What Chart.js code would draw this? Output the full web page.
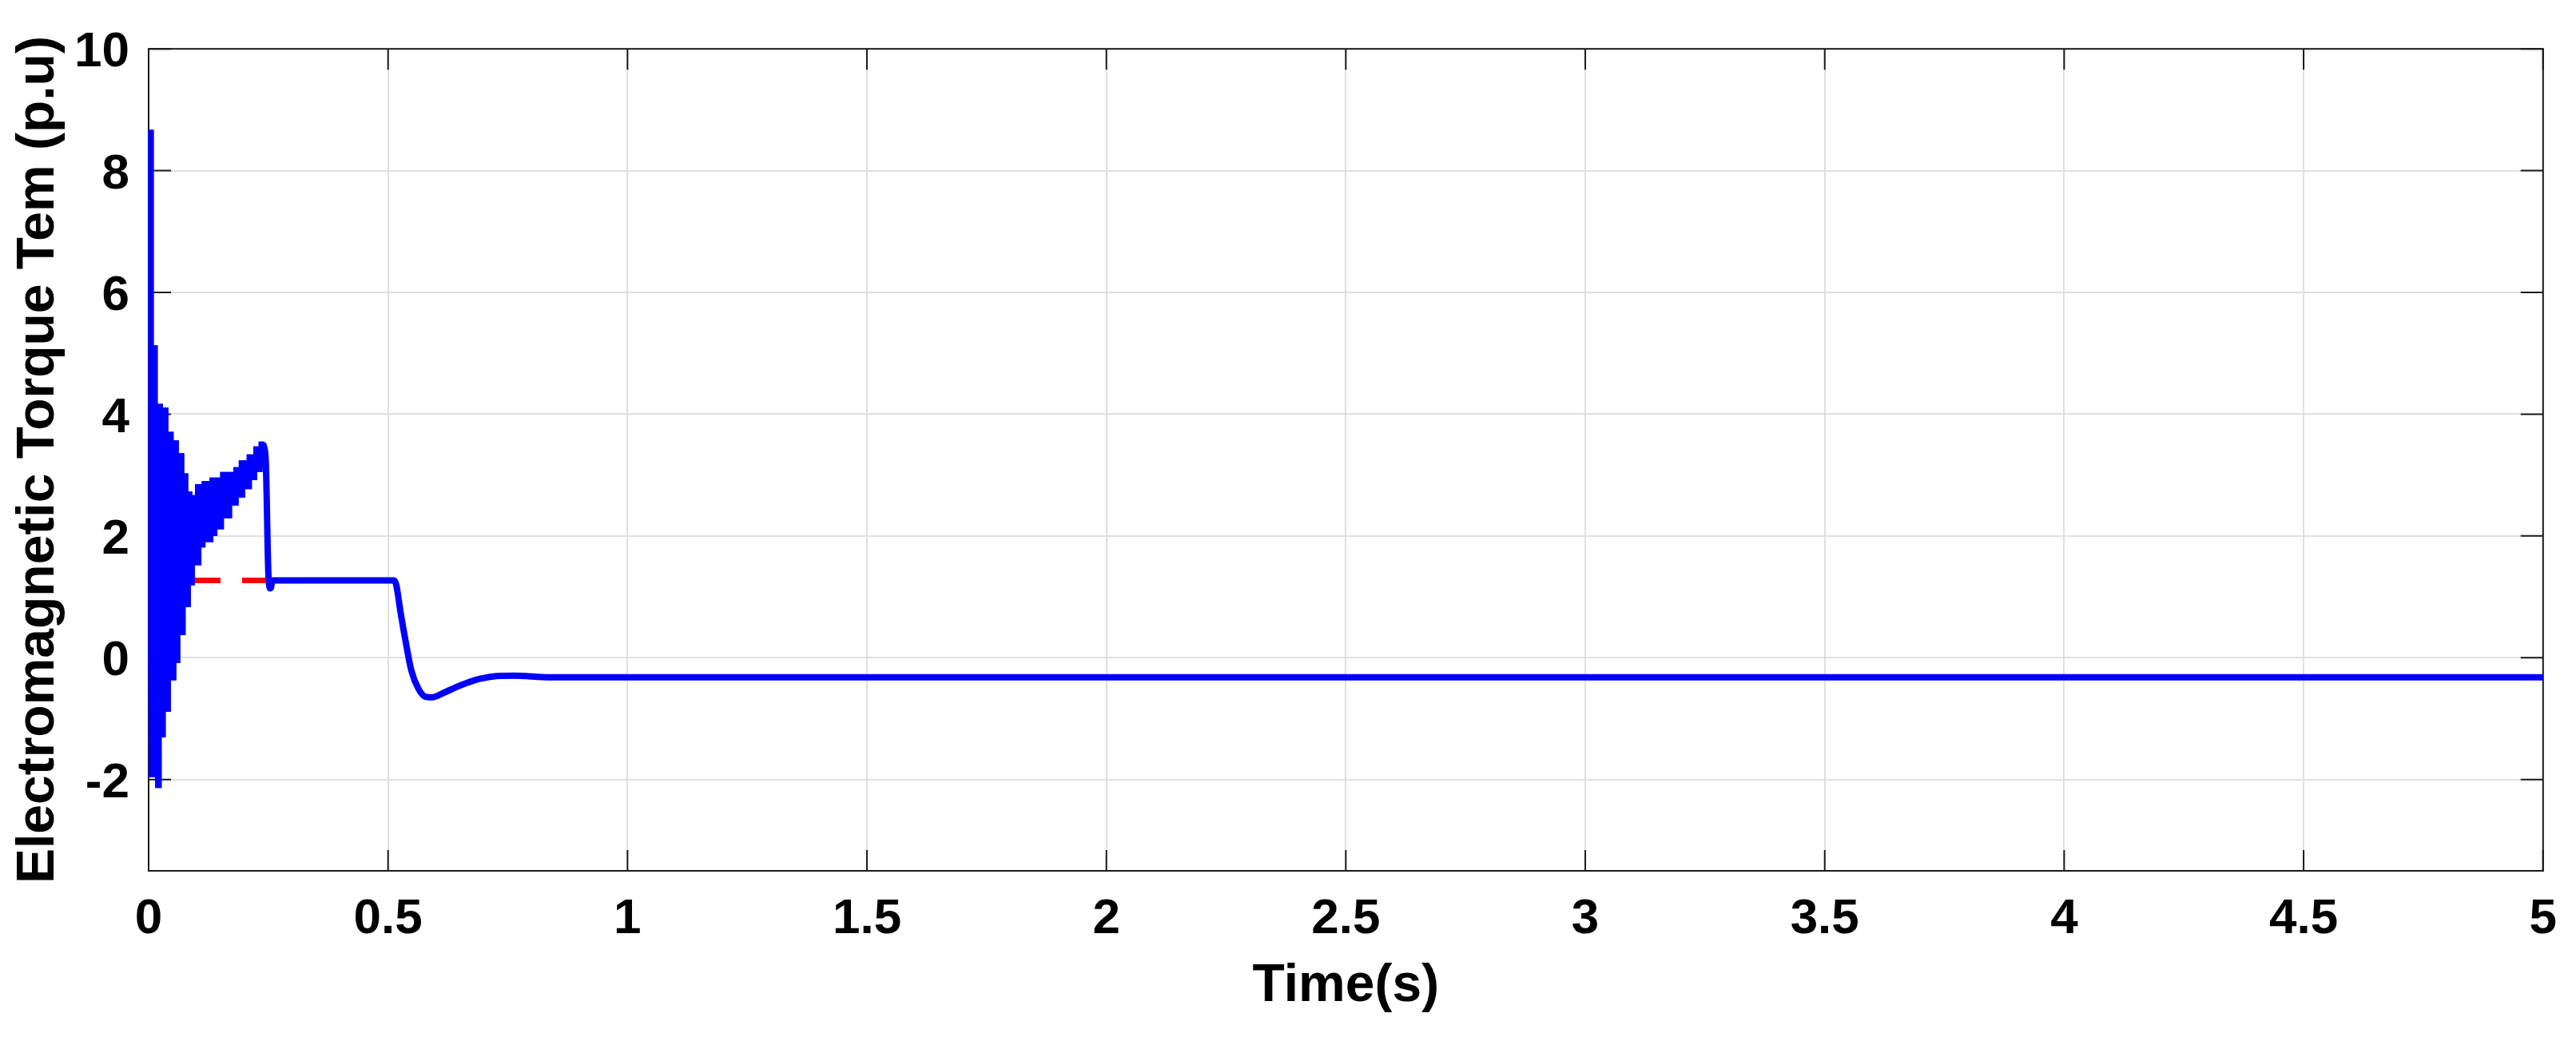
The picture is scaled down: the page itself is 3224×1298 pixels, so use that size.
<!DOCTYPE html>
<html>
<head>
<meta charset="utf-8">
<script src="https://cdn.jsdelivr.net/npm/chart.js@4.4.1/dist/chart.umd.min.js"></script>
<style>
html,body{margin:0;padding:0;background:#fff;}
#wrap{width:3224px;height:1298px;}
</style>
</head>
<body>
<div id="wrap"><canvas id="c" width="3224" height="1298"></canvas></div>
<script>
// ---- tick labels ----
const xTicks = [0, 0.5, 1, 1.5, 2, 2.5, 3, 3.5, 4, 4.5, 5];
const yTicks = [-2, 0, 2, 4, 6, 8, 10];

// ---- start-up oscillation envelope, step edges in s and levels in p.u ----
const upperEdges = [0, 0.0095, 0.0177, 0.0288, 0.0399, 0.051, 0.062, 0.0731, 0.0814, 0.0898, 0.098, 0.112, 0.1285, 0.1507, 0.1784, 0.1895, 0.206, 0.22, 0.231, 0.240];
const upperV     = [8.66, 5.12, 4.16, 4.1, 3.7, 3.56, 3.35, 3.02, 2.72, 2.66, 2.84, 2.89, 2.95, 3.04, 3.12, 3.23, 3.33, 3.46, 3.54];
const lowerEdges = [0.002, 0.015, 0.026, 0.0344, 0.0454, 0.0565, 0.0648, 0.076, 0.087, 0.0953, 0.109, 0.1175, 0.134, 0.1424, 0.156, 0.173, 0.1867, 0.2006, 0.2144, 0.2255, 0.2366, 0.242];
const lowerV     = [-1.95, -2.13, -1.3, -0.88, -0.36, -0.08, 0.38, 0.84, 1.2, 1.53, 1.82, 1.91, 2.01, 2.12, 2.3, 2.51, 2.64, 2.78, 2.93, 3.06, 3.15];
const bandStartV = 0;

// ---- electromagnetic torque after the start-up ----
const mainT = [0.240, 0.2445, 0.2505, 0.2545, 0.259, 0.512, 0.517, 0.526, 0.5376, 0.5486, 0.5635, 0.578, 0.593, 0.615, 0.6526, 0.69, 0.7265, 0.763, 0.838, 5.0];
const mainV = [3.49, 3.25, 1.3, 1.14, 1.27, 1.27, 1.2, 0.75, 0.23, -0.21, -0.51, -0.64, -0.65, -0.58, -0.45, -0.35, -0.30, -0.295, -0.32, -0.32];

// ---- reference torque (red dashed) ----
const refT = [0, 0.5];
const refV = [1.27, 1.27];

function bandPoints() {
  const pts = [];
  for (let i = 0; i < upperV.length; i++) {
    pts.push({x: upperEdges[i], y: upperV[i]});
    pts.push({x: upperEdges[i + 1], y: upperV[i]});
  }
  for (let i = lowerV.length - 1; i >= 0; i--) {
    pts.push({x: lowerEdges[i + 1], y: lowerV[i]});
    pts.push({x: lowerEdges[i], y: lowerV[i]});
  }
  pts.push({x: 0, y: bandStartV});
  return pts;
}
const zip = (t, v) => t.map((tt, i) => ({x: tt, y: v[i]}));

const FONT = 'Liberation Sans, Arial, Helvetica, sans-serif';
const AXC = '#1a1a1a';
const BLUE = '#0000ff';

const framePlugin = {
  id: 'frame',
  beforeDatasetsDraw(chart) {
    const {ctx, chartArea: a, scales: {x, y}} = chart;
    ctx.save();
    ctx.strokeStyle = AXC;
    ctx.lineWidth = 2;
    ctx.beginPath();
    for (const v of xTicks) {
      const px = x.getPixelForValue(v);
      ctx.moveTo(px, a.bottom); ctx.lineTo(px, a.bottom - 26);
      ctx.moveTo(px, a.top); ctx.lineTo(px, a.top + 26);
    }
    for (const v of yTicks) {
      const py = y.getPixelForValue(v);
      ctx.moveTo(a.left, py); ctx.lineTo(a.left + 28, py);
      ctx.moveTo(a.right, py); ctx.lineTo(a.right - 28, py);
    }
    ctx.stroke();
    ctx.strokeRect(a.left, a.top, a.right - a.left, a.bottom - a.top);
    ctx.restore();
  },
  // fill the start-up oscillation band from the points the line controller placed
  afterDatasetsDraw(chart) {
    const meta = chart.getDatasetMeta(0);
    const pts = meta.data;
    if (!pts.length) return;
    const ctx = chart.ctx;
    ctx.save();
    ctx.beginPath();
    ctx.moveTo(pts[0].x, pts[0].y);
    for (let i = 1; i < pts.length; i++) ctx.lineTo(pts[i].x, pts[i].y);
    ctx.closePath();
    ctx.fillStyle = BLUE;
    ctx.fill();
    ctx.lineWidth = 1.5;
    ctx.strokeStyle = BLUE;
    ctx.stroke();
    ctx.restore();
  }
};

new Chart(document.getElementById('c'), {
  type: 'line',
  data: {
    datasets: [
      {
        data: bandPoints(),
        borderColor: BLUE,
        borderWidth: 1.5,
        fill: false,
        pointRadius: 0,
        tension: 0,
        order: 0
      },
      {
        data: zip(mainT, mainV),
        borderColor: BLUE,
        borderWidth: 8,
        fill: false,
        pointRadius: 0,
        borderJoinStyle: 'round',
        borderCapStyle: 'round',
        cubicInterpolationMode: 'monotone',
        order: 0
      },
      {
        data: zip(refT, refV),
        borderColor: '#ff0000',
        borderWidth: 7,
        borderDash: [33, 27],
        borderDashOffset: 3,
        fill: false,
        pointRadius: 0,
        tension: 0,
        order: 2
      }
    ]
  },
  options: {
    responsive: false,
    animation: false,
    events: [],
    devicePixelRatio: 1,
    layout: {padding: {left: 0, top: 59, right: 30, bottom: 0}},
    plugins: {legend: {display: false}, tooltip: {enabled: false}},
    scales: {
      x: {
        type: 'linear',
        min: 0, max: 5,
        afterBuildTicks: s => { s.ticks = xTicks.map(v => ({value: v})); },
        afterFit: s => { s.height = 208; },
        grid: {color: '#e0e0e0', lineWidth: 2, drawTicks: false},
        border: {display: false},
        ticks: {
          padding: 24,
          color: '#000',
          maxRotation: 0,
          autoSkip: false,
          font: {family: FONT, weight: 'bold', size: 62},
          callback: v => String(v)
        },
        title: {
          display: true,
          text: 'Time(s)',
          color: '#000',
          font: {family: FONT, weight: 'bold', size: 66},
          padding: {top: 0, bottom: 24}
        }
      },
      y: {
        type: 'linear',
        min: -3.5, max: 10,
        afterBuildTicks: s => { s.ticks = yTicks.map(v => ({value: v})); },
        afterFit: s => { s.width = 186; },
        grid: {color: '#e0e0e0', lineWidth: 2, drawTicks: false},
        border: {display: false},
        ticks: {
          padding: 24,
          labelOffset: 5,
          color: '#000',
          autoSkip: false,
          font: {family: FONT, weight: 'bold', size: 62},
          callback: v => String(v)
        },
        title: {
          display: true,
          text: 'Electromagnetic Torque Tem (p.u)',
          color: '#000',
          font: {family: FONT, weight: 'bold', size: 66},
          padding: {top: 9, bottom: 0}
        }
      }
    }
  },
  plugins: [framePlugin]
});
</script>
</body>
</html>
